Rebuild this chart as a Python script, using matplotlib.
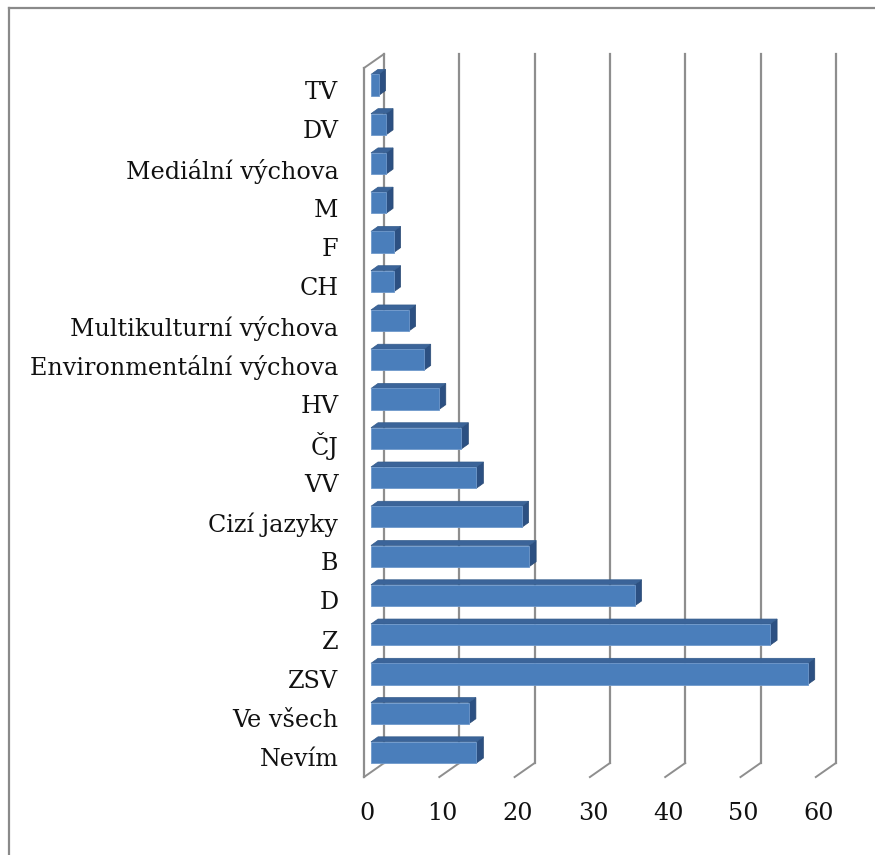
import matplotlib.pyplot as plt
from matplotlib.patches import Polygon
from matplotlib.lines import Line2D
from matplotlib.transforms import ScaledTranslation

# data (top to bottom)
categories = ["TV", "DV", "Mediální výchova", "M", "F", "CH",
              "Multikulturní výchova", "Environmentální výchova", "HV", "ČJ",
              "VV", "Cizí jazyky", "B", "D", "Z", "ZSV", "Ve všech", "Nevím"]
values = [1, 2, 2, 2, 3, 3, 5, 7, 9, 12, 14, 20, 21, 35, 53, 58, 13, 14]
xticks = [0, 10, 20, 30, 40, 50, 60]

# layout in pixels (figure is 875x855 at 100 dpi)
W, H = 875, 855
PX_UNIT = 7.53      # pixels per value unit
PITCH = 39.26       # pixels between categories
X0 = 371            # pixel of value 0 on the bar plane
Y_FIRST = 85        # pixel row of first category centre
AX_TOP, AX_BOT = 50, 777

front_col = "#4A7EBB"
top_col = "#3B6499"
side_col = "#2C5082"
grid_col = "#8E8E8E"

plt.rcParams["font.family"] = ["DejaVu Serif"]

fig = plt.figure(figsize=(W / 100, H / 100), dpi=100)
xmax = xticks[-1]
ax = fig.add_axes([X0 / W, 1 - AX_BOT / H, xmax * PX_UNIT / W, (AX_BOT - AX_TOP) / H])
ax.set_xlim(0, xmax)
ax.set_ylim((AX_BOT - Y_FIRST) / PITCH, (AX_TOP - Y_FIRST) / PITCH)
for s in ax.spines.values():
    s.set_visible(False)
ax.patch.set_visible(False)

# depth offsets in data units
front = (-7 / PX_UNIT, 5 / PITCH)
back = (13 / PX_UNIT, -9 / PITCH)
bar_d = (7 / PX_UNIT, -5 / PITCH)
wall_top, wall_bot = -0.56, len(categories) - 0.5

# back wall gridlines
for v in xticks:
    ax.plot([v + back[0]] * 2, [wall_top + back[1], wall_bot + back[1]],
            color=grid_col, lw=1.6, zorder=1, clip_on=False)
    # floor diagonals
    ax.plot([v + front[0], v + back[0]], [wall_bot + front[1], wall_bot + back[1]],
            color=grid_col, lw=1.4, zorder=1, clip_on=False)

# left side wall
ax.plot([front[0]] * 2, [wall_top + front[1], wall_bot + front[1]],
        color=grid_col, lw=1.6, zorder=1, clip_on=False)
ax.plot([front[0], back[0]], [wall_top + front[1], wall_top + back[1]],
        color=grid_col, lw=1.4, zorder=1, clip_on=False)

# 3d bars
bh = 0.54
ypos = list(range(len(categories)))
for i, v in zip(ypos, values):
    y1, y2 = i - bh / 2, i + bh / 2
    side = [(v, y1), (v, y2), (v + bar_d[0], y2 + bar_d[1]), (v + bar_d[0], y1 + bar_d[1])]
    top = [(0, y1), (v, y1), (v + bar_d[0], y1 + bar_d[1]), (bar_d[0], y1 + bar_d[1])]
    ax.add_patch(Polygon(side, closed=True, fc=side_col, ec="#2A4A74", lw=0.5, zorder=2, clip_on=False))
    ax.add_patch(Polygon(top, closed=True, fc=top_col, ec="#345C8C", lw=0.5, zorder=2, clip_on=False))
ax.barh(ypos, values, height=bh, color=front_col, edgecolor="#6F99CC", linewidth=0.6, zorder=3)

# tick labels
ax.set_yticks(ypos)
ax.set_yticklabels(categories, fontsize=17.2, color="#111111")
ax.set_xticks(xticks)
ax.set_xticklabels([str(t) for t in xticks], fontsize=17.2, color="#111111")
ax.tick_params(axis="y", length=0, pad=23.5)
ax.tick_params(axis="x", length=0, pad=18)
for lab in ax.get_yticklabels():
    lab.set_transform(lab.get_transform() + ScaledTranslation(0, -5 / 100, fig.dpi_scale_trans))
for lab in ax.get_xticklabels():
    lab.set_transform(lab.get_transform() + ScaledTranslation(-4 / 100, 0, fig.dpi_scale_trans))

# outer chart border (only left and top visible in the crop)
fig.add_artist(Line2D([8.5 / W, 8.5 / W], [0, 1 - 8.5 / H], color="#8A8A8A", lw=1.6))
fig.add_artist(Line2D([8.5 / W, 1], [1 - 8.5 / H, 1 - 8.5 / H], color="#8A8A8A", lw=1.6))

fig.savefig("out.png", dpi=100)
